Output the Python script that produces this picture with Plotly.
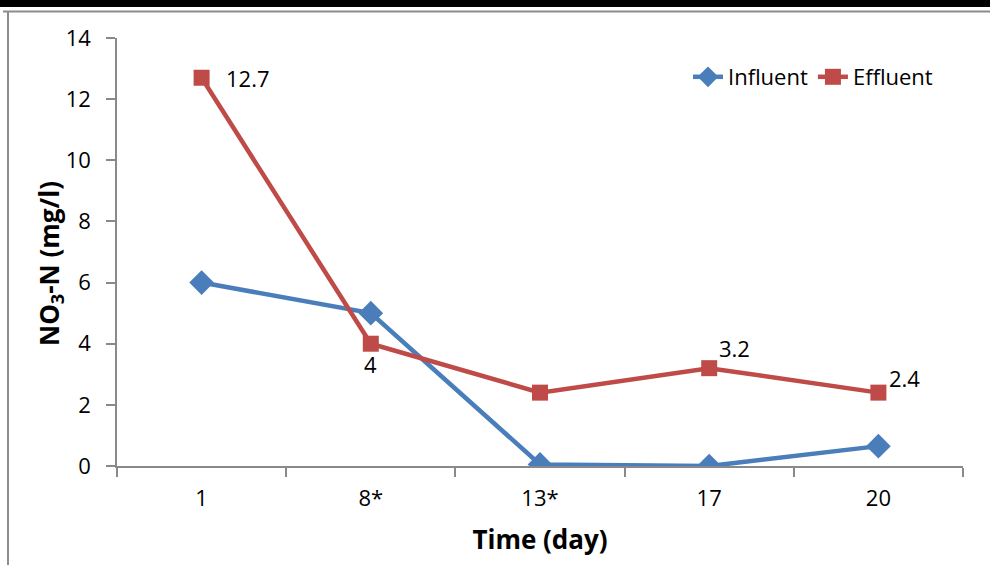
import plotly.graph_objects as go

categories = ["1", "8*", "13*", "17", "20"]
influent = [6.0, 5.0, 0.05, 0.0, 0.65]
effluent = [12.7, 4.0, 2.4, 3.2, 2.4]
effluent_labels = ["12.7", "4", "", "3.2", "2.4"]
# label offsets in pixels (xshift, yshift, xanchor)
label_offsets = [(22, 0, "left"), (0, -20, "center"), (0, 0, "left"), (8, 20, "left"), (9, 15, "left")]

FONT = "Open Sans, Calibri, sans-serif"
AX = "#898989"
BLUE = "#4A7EBB"
RED = "#BE4B48"

fig = go.Figure()
fig.add_trace(go.Scatter(
    x=categories, y=influent, name="Influent", mode="lines+markers",
    line=dict(color=BLUE, width=4.5),
    marker=dict(symbol="diamond", size=19, color=BLUE),
))
fig.add_trace(go.Scatter(
    x=categories, y=effluent, name="Effluent", mode="lines+markers",
    line=dict(color=RED, width=4.5),
    marker=dict(symbol="square", size=16, color=RED),
))

for i, (val, lab, (dx, dy, xa)) in enumerate(zip(effluent, effluent_labels, label_offsets)):
    if lab:
        fig.add_annotation(x=i, y=val, xref="x", yref="y", text=lab, showarrow=False,
                           xanchor=xa, yanchor="middle", xshift=dx, yshift=dy,
                           font=dict(size=22, color="black", family=FONT))

pw, ph = 990 - 117 - 27, 565 - 38 - 99
def px(x):
    return (x - 117) / pw
def py(y):
    return (565 - 99 - y) / ph

fig.add_annotation(x=px(50), y=py(264), xref="paper", yref="paper", textangle=-90,
                   text="<b>NO<sub>3</sub>-N (mg/l)</b>", showarrow=False,
                   xanchor="center", yanchor="middle",
                   font=dict(size=26, color="black", family=FONT))

fig.update_layout(
    width=990, height=565,
    margin=dict(l=117, r=27, t=38, b=99),
    paper_bgcolor="white", plot_bgcolor="white",
    font=dict(family=FONT, size=22, color="black"),
    showlegend=True,
    legend=dict(orientation="h", x=px(938), xanchor="right", y=py(77), yanchor="middle",
                font=dict(size=22), bgcolor="rgba(0,0,0,0)", itemwidth=30,
                tracegroupgap=0),
    xaxis=dict(
        type="category", range=[-0.5, 4.5],
        showline=True, linecolor=AX, linewidth=1.5,
        ticks="outside", tickson="boundaries", ticklen=9, tickcolor=AX, tickwidth=1.5,
        showgrid=False, zeroline=False, ticklabelstandoff=12,
        title=dict(text="<b>Time (day)</b>", font=dict(size=26), standoff=20),
    ),
    yaxis=dict(
        range=[0, 14], dtick=2,
        showline=True, linecolor=AX, linewidth=1.5,
        ticks="outside", ticklen=9, tickcolor=AX, tickwidth=1.5,
        showgrid=False, zeroline=False, ticklabelstandoff=11,
    ),
)

fig.add_shape(type="rect", xref="paper", yref="paper", x0=px(-5), x1=px(995),
              y0=py(7), y1=py(-5), fillcolor="black", line_width=0)
fig.add_shape(type="line", xref="paper", yref="paper", x0=px(3), x1=px(995),
              y0=py(11.5), y1=py(11.5), line=dict(color="#8C8C8C", width=2))
fig.add_shape(type="line", xref="paper", yref="paper", x0=px(8), x1=px(8),
              y0=py(11.5), y1=py(570), line=dict(color="#8C8C8C", width=2))

fig.write_html("out.html", config={"displayModeBar": False},
               post_script="document.body.style.margin='0';document.body.style.overflow='hidden';")
